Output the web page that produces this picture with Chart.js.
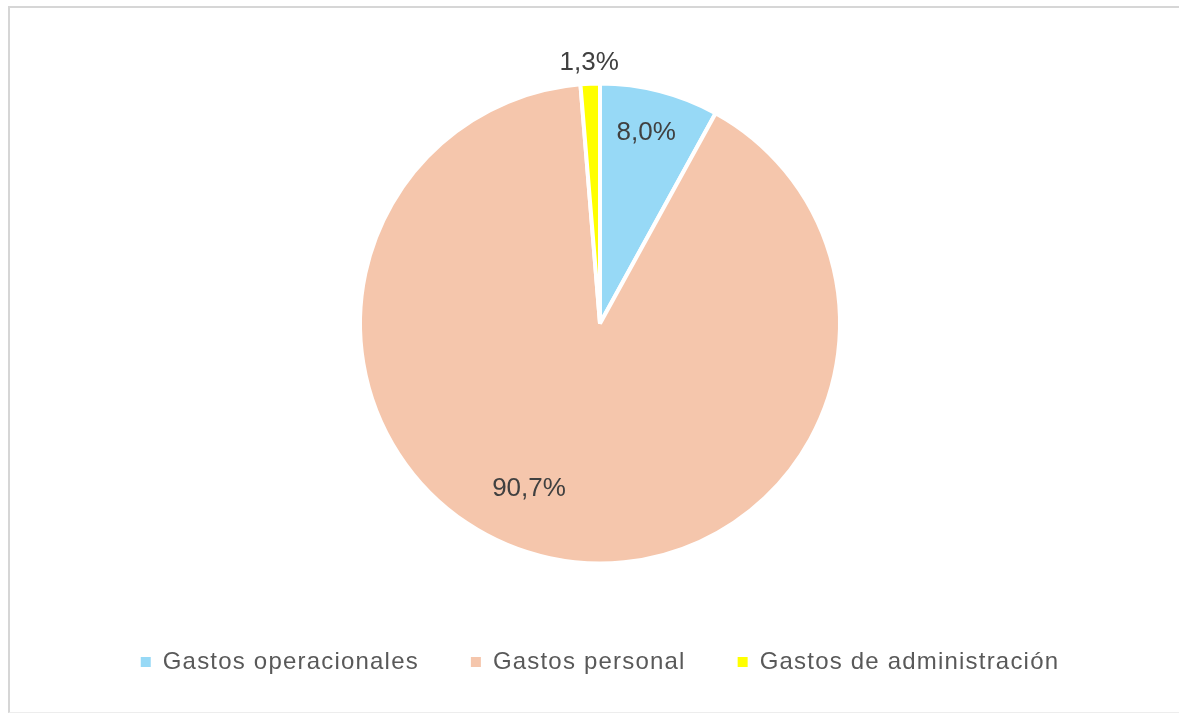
<!DOCTYPE html>
<html>
<head>
<meta charset="utf-8">
<script src="https://cdn.jsdelivr.net/npm/chart.js@4.4.0/dist/chart.umd.min.js"></script>
<style>
  html, body { margin: 0; padding: 0; background: #fff; width: 1179px; height: 713px; overflow: hidden; }
  #frame { position: absolute; left: 8px; top: 6px; width: 1180px; height: 704px;
           border-left: 2px solid #d6d6d6; border-top: 2px solid #d6d6d6; border-bottom: 1px solid #ededed; }
  #wrap { position: absolute; left: 0; top: 8px; width: 1179px; height: 703px; }
</style>
</head>
<body>
<div id="frame"></div>
<div id="wrap"><canvas id="pieChart"></canvas></div>
<script>
// categories and shares (%)
const categories = ['Gastos operacionales', 'Gastos personal', 'Gastos de administración'];
const shares = [8.0, 90.7, 1.3];
const sliceColors = ['#97d9f6', '#f5c6ac', '#ffff00'];

// where each value label sits: fraction of radius, angle nudge in degrees
const labelRadius = [0.83, 0.74, 1.10];
const labelNudge = [-1, 11.5, 0];

const spacingPlugin = {
    id: 'spacing',
    beforeLayout(chart) { chart.ctx.letterSpacing = '1.2px'; },
    beforeDraw(chart) { chart.ctx.letterSpacing = '1.2px'; }
};

const valueLabels = {
    id: 'valueLabels',
    afterDraw(chart) {
        const ctx = chart.ctx;
        const meta = chart.getDatasetMeta(0);
        ctx.save();
        ctx.letterSpacing = '0px';
        ctx.font = '26px "Liberation Sans", Arial, sans-serif';
        ctx.fillStyle = '#404040';
        ctx.textAlign = 'center';
        ctx.textBaseline = 'middle';
        meta.data.forEach(function(arc, i) {
            const mid = (arc.startAngle + arc.endAngle) / 2 + labelNudge[i] * Math.PI / 180;
            const r = arc.outerRadius * labelRadius[i];
            const txt = shares[i].toFixed(1).replace('.', ',') + '%';
            // small downward shift matches the reference label baseline
            ctx.fillText(txt, arc.x + Math.cos(mid) * r, arc.y + Math.sin(mid) * r + 3);
        });
        ctx.restore();
    }
};

new Chart(document.getElementById('pieChart').getContext('2d'), {
    type: 'pie',
    data: {
        labels: categories,
        datasets: [{
            data: shares,
            backgroundColor: sliceColors,
            borderColor: '#ffffff',
            borderWidth: 4,
            radius: 240
        }]
    },
    options: {
        responsive: true,
        maintainAspectRatio: false,
        animation: false,
        layout: { padding: { top: 41, left: 21, right: 0, bottom: 27 } },
        plugins: {
            tooltip: { enabled: false },
            legend: {
                position: 'bottom',
                labels: {
                    boxWidth: 10,
                    boxHeight: 10,
                    padding: 52,
                    color: '#595959',
                    font: { family: '"Liberation Sans", Arial, sans-serif', size: 24 },
                    generateLabels(chart) {
                        const items = Chart.controllers.pie.overrides.plugins.legend.labels.generateLabels(chart);
                        items.forEach(function(it) { it.lineWidth = 0; it.strokeStyle = 'rgba(0,0,0,0)'; });
                        return items;
                    }
                }
            }
        }
    },
    plugins: [spacingPlugin, valueLabels]
});
</script>
</body>
</html>
